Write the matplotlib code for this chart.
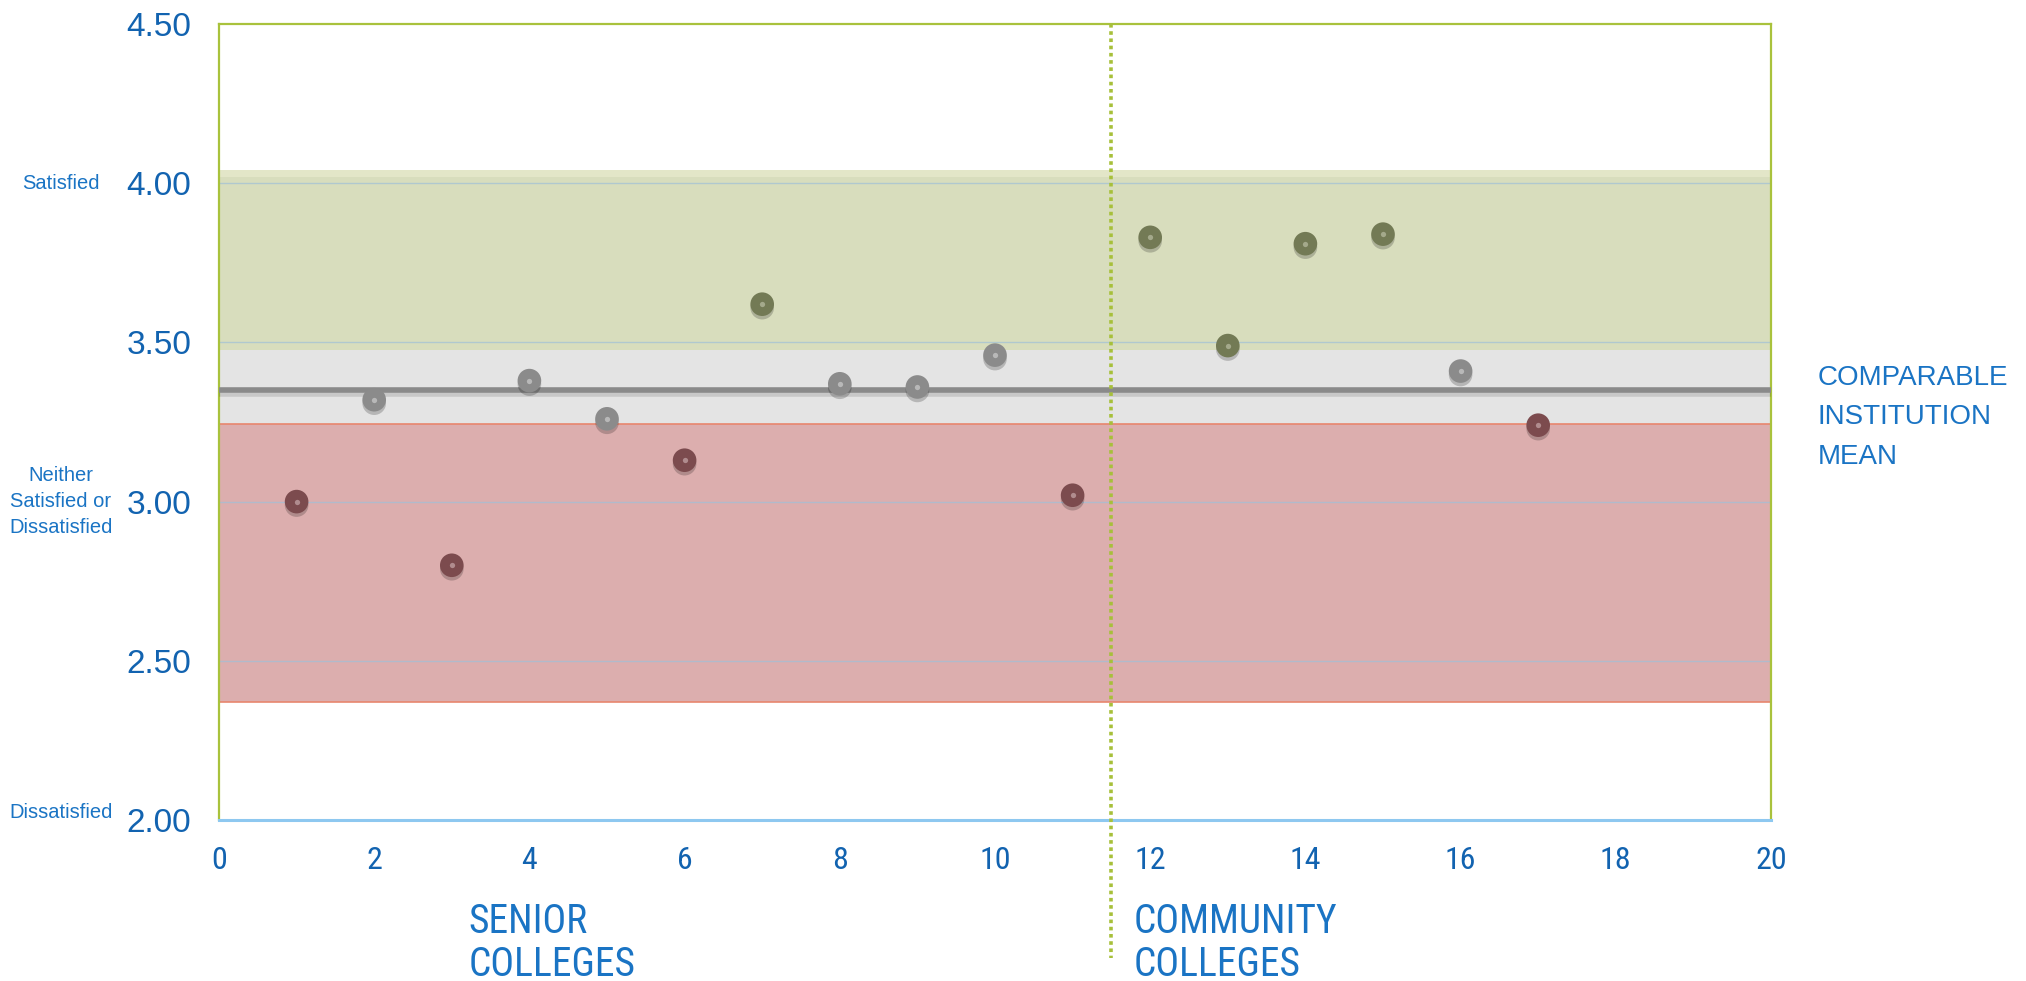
import matplotlib
matplotlib.use("Agg")
import matplotlib.pyplot as plt
import matplotlib.patheffects as pe
from matplotlib import font_manager

# college index and mean satisfaction score
colleges = list(range(1, 18))
scores = [3.00, 3.32, 2.80, 3.38, 3.26, 3.13, 3.62, 3.37, 3.36, 3.46,
          3.02, 3.83, 3.49, 3.81, 3.84, 3.41, 3.24]

comparable_mean = 3.35
red_band = (2.37, 3.245)
grey_band = (3.245, 3.475)
green_band = (3.475, 4.04)
divider = 11.5

y_ticks = [2.0, 2.5, 3.0, 3.5, 4.0, 4.5]
x_ticks = list(range(0, 21, 2))
scale_labels = {4.0: "Satisfied", 3.0: "Neither\nSatisfied or\nDissatisfied", 2.0: "Dissatisfied"}

blue = "#1263b0"
light_blue = "#1a74c4"
plt.rcParams["font.family"] = ["Liberation Sans", "DejaVu Sans"]

# a narrow face for the bottom labels, if one is installed
names = {f.name for f in font_manager.fontManager.ttflist}
narrow = "Liberation Sans"
for cand in ["Liberation Sans Narrow", "Arial Narrow", "Roboto Condensed", "Open Sans Condensed"]:
    if cand in names:
        narrow = cand
        break

fig = plt.figure(figsize=(20.26, 9.81), dpi=100)
ax = fig.add_axes([219 / 2026, 1 - 820 / 981, 1552 / 2026, 796 / 981])
ax.set_xlim(0, 20)
ax.set_ylim(2.0, 4.5)

# bands
ax.axhspan(*green_band, color="#d8ddbd", lw=0, zorder=1)
ax.axhspan(green_band[1] - 0.02, green_band[1], color="#e3e6c8", lw=0, zorder=1)
ax.axhspan(*grey_band, color="#e4e4e4", lw=0, zorder=1)
ax.axhspan(*red_band, facecolor="#dcaeae", edgecolor="#e8866e", lw=1.2, zorder=1)

# gridlines
for y in [2.5, 3.0, 3.5, 4.0]:
    ax.axhline(y, color="#9fc0d8", lw=1.0, alpha=0.7, zorder=2)

# comparable mean
ax.axhline(comparable_mean, color="#8a8a8a", lw=4.0, zorder=3,
           path_effects=[pe.SimpleLineShadow(offset=(0, -3), alpha=0.12, shadow_color="k"), pe.Normal()])

# divider between senior and community colleges
ax.plot([divider, divider], [4.5, 1.567], ls=(0, (1, 1)), color="#a7c03a", lw=2.6,
        clip_on=False, zorder=4)

# points
for x, s in zip(colleges, scores):
    if s < red_band[1]:
        face, dot = "#7c4b4e", "#b08c8e"
    elif s > green_band[0]:
        face, dot = "#737a55", "#a4a98b"
    else:
        face, dot = "#8b8b8b", "#b8b8b8"
    ax.plot(x, s, "o", ms=17, mfc=face, mec="none", zorder=5,
            path_effects=[pe.SimplePatchShadow(offset=(0, -2.5), shadow_rgbFace="k", alpha=0.2), pe.Normal()])
    ax.plot(x, s, "o", ms=3.8, mfc=dot, mec="none", zorder=6)

# spines
for side in ["top", "left", "right"]:
    ax.spines[side].set_color("#a9c23c")
    ax.spines[side].set_linewidth(1.6)
ax.spines["bottom"].set_color("#8ec8f0")
ax.spines["bottom"].set_linewidth(2.2)

ax.set_yticks(y_ticks)
ax.set_yticklabels(["%.2f" % v for v in y_ticks])
ax.set_xticks(x_ticks)
ax.tick_params(length=0, labelcolor=blue)
ax.tick_params(axis="y", labelsize=24, pad=20)
ax.tick_params(axis="x", labelsize=21, pad=19)
for lab in ax.get_xticklabels():
    lab.set_family([narrow, "DejaVu Sans"])
    if narrow != "Liberation Sans":
        lab.set_fontsize(23)

# scale descriptions on the left
for y, txt in scale_labels.items():
    yy = y + 0.025 if y == 2.0 else y
    ax.text(-2.04, yy, txt, ha="center", va="center",
            fontsize=14.5, color=light_blue, linespacing=1.45, clip_on=False)

ax.text(20.6, 3.265, "COMPARABLE\nINSTITUTION\nMEAN", ha="left", va="center",
        fontsize=20, color=light_blue, linespacing=1.68, clip_on=False)

# bottom group labels, sized so "COLLEGES" is about 168 px wide
group_labels = []
for x0, txt in [(3.22, "SENIOR\nCOLLEGES"), (11.78, "COMMUNITY\nCOLLEGES")]:
    t = ax.text(x0, 1.614, txt, ha="left", va="center", fontsize=27,
                color=light_blue, family=[narrow, "DejaVu Sans"], linespacing=1.2, clip_on=False)
    group_labels.append(t)

renderer = fig.canvas.get_renderer()
probe = fig.text(0, 0, "COLLEGES", fontsize=27, family=[narrow, "DejaVu Sans"])
w = probe.get_window_extent(renderer).width
probe.remove()
size = min(28.5, 27 * 168 / w)
for t in group_labels:
    t.set_fontsize(size)
    t.set_linespacing(1.2 * 27 / size)

fig.savefig("out.png", dpi=100)
